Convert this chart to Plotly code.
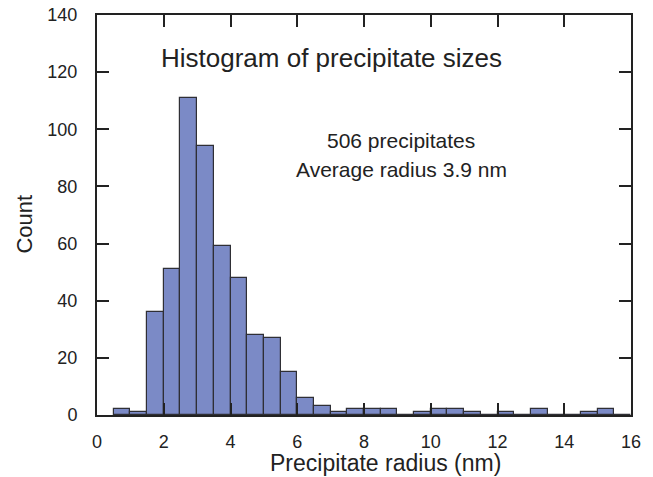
import plotly.graph_objects as go

bin_start = [0.5, 1.0, 1.5, 2.0, 2.5, 3.0, 3.5, 4.0, 4.5, 5.0, 5.5, 6.0, 6.5, 7.0, 7.5,
             8.0, 8.5, 9.0, 9.5, 10.0, 10.5, 11.0, 11.5, 12.0, 12.5, 13.0, 13.5, 14.0,
             14.5, 15.0, 15.5]
counts = [2, 1, 36, 51, 111, 94, 59, 48, 28, 27, 15, 6, 3, 1, 2,
          2, 2, 0, 1, 2, 2, 1, 0, 1, 0, 2, 0, 0,
          1, 2, 0]
bin_width = 0.5
title_text = "Histogram of precipitate sizes"
note_lines = ["506 precipitates", "Average radius 3.9 nm"]
x_title = "Precipitate radius (nm)"
y_title = "Count"

centers = [b + bin_width / 2 for b in bin_start]

fig = go.Figure()
fig.add_trace(go.Bar(
    x=centers, y=counts, width=bin_width,
    marker=dict(color="#7b8ac6", line=dict(color="#2f2f35", width=1.2)),
    showlegend=False,
))

font = "Liberation Sans, Arial, Helvetica, sans-serif"
axis_common = dict(
    showline=True, linecolor="#222", linewidth=2, mirror="ticks",
    ticks="inside", ticklen=12, tickwidth=2, tickcolor="#222",
    showgrid=False, zeroline=False, automargin=False,
    tickfont=dict(family=font, size=18, color="#222"),
)
fig.update_xaxes(range=[0, 16], dtick=2, tick0=0, ticklabelstandoff=9, **axis_common)
fig.update_yaxes(range=[0, 140], dtick=20, tick0=0, ticklabelstandoff=14, **axis_common)

def note(x, y, text, size, angle=0):
    fig.add_annotation(x=x, y=y, xref="paper", yref="paper", text=text,
                       showarrow=False, xanchor="center", yanchor="middle",
                       textangle=angle, font=dict(family=font, size=size, color="#222"))

note(0.44, 0.8925, title_text, 26)
note(0.57, 0.6875, note_lines[0], 21)
note(0.57, 0.6125, note_lines[1], 21)
note(0.541, -0.12, x_title, 23)
note(-0.136, 0.477, y_title, 22, -90)

fig.update_layout(
    width=653, height=477,
    margin=dict(l=97, r=22, t=15, b=62, autoexpand=False),
    plot_bgcolor="white", paper_bgcolor="white",
    bargap=0,
)
fig.write_html("out.html")
